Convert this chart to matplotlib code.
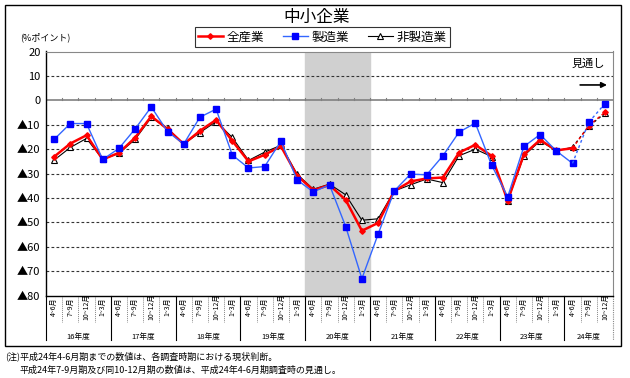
import matplotlib
matplotlib.use('Agg')
import matplotlib.pyplot as plt
from matplotlib.patches import Rectangle
from matplotlib.transforms import blended_transform_factory

plt.rcParams['font.family'] = ['Noto Sans CJK JP', 'DejaVu Sans']

quarters = ['4~6月', '7~9月', '10~12月', '1~3月'] * 8 + ['4~6月', '7~9月', '10~12月']
years = ['16年度', '17年度', '18年度', '19年度', '20年度', '21年度', '22年度', '23年度', '24年度']

all_industries = [-23.1, -17.7, -14.3, -24.2, -21.5, -15.3, -6.5, -11.8, -17.9, -12.5,
                  -8.0, -16.6, -25.0, -22.3, -18.8, -30.8, -36.8, -34.7, -40.8, -53.4,
                  -50.2, -37.1, -33.2, -32.0, -31.6, -21.4, -18.2, -22.7, -41.1, -22.1,
                  -16.2, -20.5, -19.6, -10.4, -4.9]
manufacturing = [-16.0, -9.5, -9.5, -24.2, -19.7, -11.7, -2.7, -12.8, -17.9, -6.9,
                 -3.6, -22.4, -27.7, -27.1, -16.7, -32.6, -37.5, -34.6, -51.7, -73.0,
                 -54.8, -37.1, -30.2, -30.5, -22.7, -13.0, -9.3, -26.4, -39.5, -18.9,
                 -14.0, -20.7, -25.8, -9.0, -1.4]
non_manufacturing = [-24.5, -19.3, -15.6, -24.2, -21.7, -16.0, -7.0, -11.4, -17.9, -13.2,
                     -8.7, -15.2, -24.6, -21.2, -18.4, -30.2, -36.4, -34.3, -38.7, -49.1,
                     -48.5, -37.1, -34.6, -32.2, -33.7, -22.7, -20.0, -23.0, -41.2, -22.7,
                     -16.6, -20.7, -19.2, -10.7, -5.2]

n_actual = 33  # last actual point is index 32, then forecasts

fig = plt.figure(figsize=(6.3, 3.78), dpi=100)
ax = fig.add_axes([46 / 630, 1 - 295.7 / 378, 567 / 630, 244.2 / 378])
ax.set_xlim(-0.5, len(quarters) - 0.5)
ax.set_ylim(-80, 20)

# shaded recession period (20年度)
ax.axvspan(15.5, 19.5, color='#d0d0d0', zorder=0)

for v in range(-70, 20, 10):
    if v == 0:
        continue
    ax.axhline(v, color='#333333', lw=0.8, ls=(0, (2.5, 2)), zorder=1)
ax.axhline(0, color='#808080', lw=1.2, zorder=1)
for i in range(len(quarters) - 1):
    ax.plot([i + 0.5, i + 0.5], [0, 0.8], color='#808080', lw=0.8, zorder=1)

x = list(range(len(quarters)))
series = [
    (non_manufacturing, '非製造業', dict(color='black', lw=0.8, marker='^', ms=4.2,
                                      mfc='white', mec='black', mew=0.8)),
    (all_industries, '全産業', dict(color='#ff0000', lw=1.8, marker='D', ms=2.8,
                                  mfc='#ff0000', mec='#ff0000')),
    (manufacturing, '製造業', dict(color='#3366ff', lw=1.0, marker='s', ms=4.2,
                                 mfc='#0000ff', mec='#0000ff')),
]
handles = {}
for k, (vals, name, style) in enumerate(series):
    h, = ax.plot(x[:n_actual], vals[:n_actual], zorder=3 + k, **style)
    fstyle = dict(style)
    fstyle['lw'] = 1.0
    ax.plot(x[n_actual - 1:], vals[n_actual - 1:], ls=(0, (2, 2)), zorder=3 + k,
            markevery=[1, 2], **fstyle)
    handles[name] = h

leg = ax.legend([handles['全産業'], handles['製造業'], handles['非製造業']],
                ['全産業', '製造業', '非製造業'], ncol=3, loc='center',
                bbox_to_anchor=(322 / 630, 1 - 37 / 378), bbox_transform=fig.transFigure,
                fontsize=9, frameon=True, fancybox=False, edgecolor='black',
                handlelength=2.0, handletextpad=0.3, columnspacing=1.5,
                borderpad=0.25)
leg.get_frame().set_linewidth(0.8)

ax.set_yticks(range(-80, 30, 10))
ax.set_yticklabels([str(v) if v >= 0 else '▲' + str(-v) for v in range(-80, 30, 10)],
                   fontsize=8)
ax.tick_params(axis='y', length=0, pad=4)
ax.set_xticks([])

for side in ['top', 'right']:
    ax.spines[side].set_color('#888888')
    ax.spines[side].set_linestyle((0, (1, 1)))
    ax.spines[side].set_linewidth(0.8)
ax.spines['left'].set_linewidth(1.0)
ax.spines['bottom'].set_linewidth(1.0)

trans = blended_transform_factory(ax.transData, ax.transAxes)
for i, q in enumerate(quarters):
    ax.text(i, -0.045, q, rotation=90, fontsize=5, ha='center', va='center',
            transform=trans, clip_on=False)
    if i > 0 and i % 4 != 0:
        ax.plot([i - 0.5, i - 0.5], [0, -0.107], color='#888888', lw=0.7,
                ls=(0, (1, 1)), transform=trans, clip_on=False)
for j, yname in enumerate(years):
    start = j * 4
    end = min(start + 4, len(quarters))
    ax.text((start + end - 1) / 2, -0.168, yname, fontsize=5.5, ha='center',
            va='center', transform=trans, clip_on=False)
    ax.plot([start - 0.5, start - 0.5], [0, -0.18], color='black', lw=0.8,
            transform=trans, clip_on=False)
ax.plot([len(quarters) - 0.5] * 2, [0, -0.18], color='#888888', lw=0.8,
        ls=(0, (1, 1)), transform=trans, clip_on=False)

ax.annotate('', xy=(34.3, 6.3), xytext=(32.3, 6.3),
            arrowprops=dict(arrowstyle='-|>', color='black', lw=1.2,
                            mutation_scale=8))
ax.text(33.0, 15.2, '見通し', fontsize=8, ha='center', va='center')

fig.text(317 / 630, 1 - 17 / 378, '中小企業', fontsize=12, ha='center', va='center')
fig.text(20 / 630, 1 - 37 / 378, '(%ポイント)', fontsize=6.5, ha='left', va='center')

fig.patches.append(Rectangle((5 / 630, 1 - 346 / 378), 616 / 630, 341 / 378,
                             transform=fig.transFigure, fill=False,
                             edgecolor='black', lw=1.0))

fig.text(5 / 630, 1 - 356 / 378, '(注)平成24年4-6月期までの数値は、各調査時期における現状判断。',
         fontsize=6.5, ha='left', va='center')
fig.text(19 / 630, 1 - 370 / 378,
         '平成24年7-9月期及び同10-12月期の数値は、平成24年4-6月期調査時の見通し。',
         fontsize=6.5, ha='left', va='center')

fig.savefig('out.png', dpi=100)
